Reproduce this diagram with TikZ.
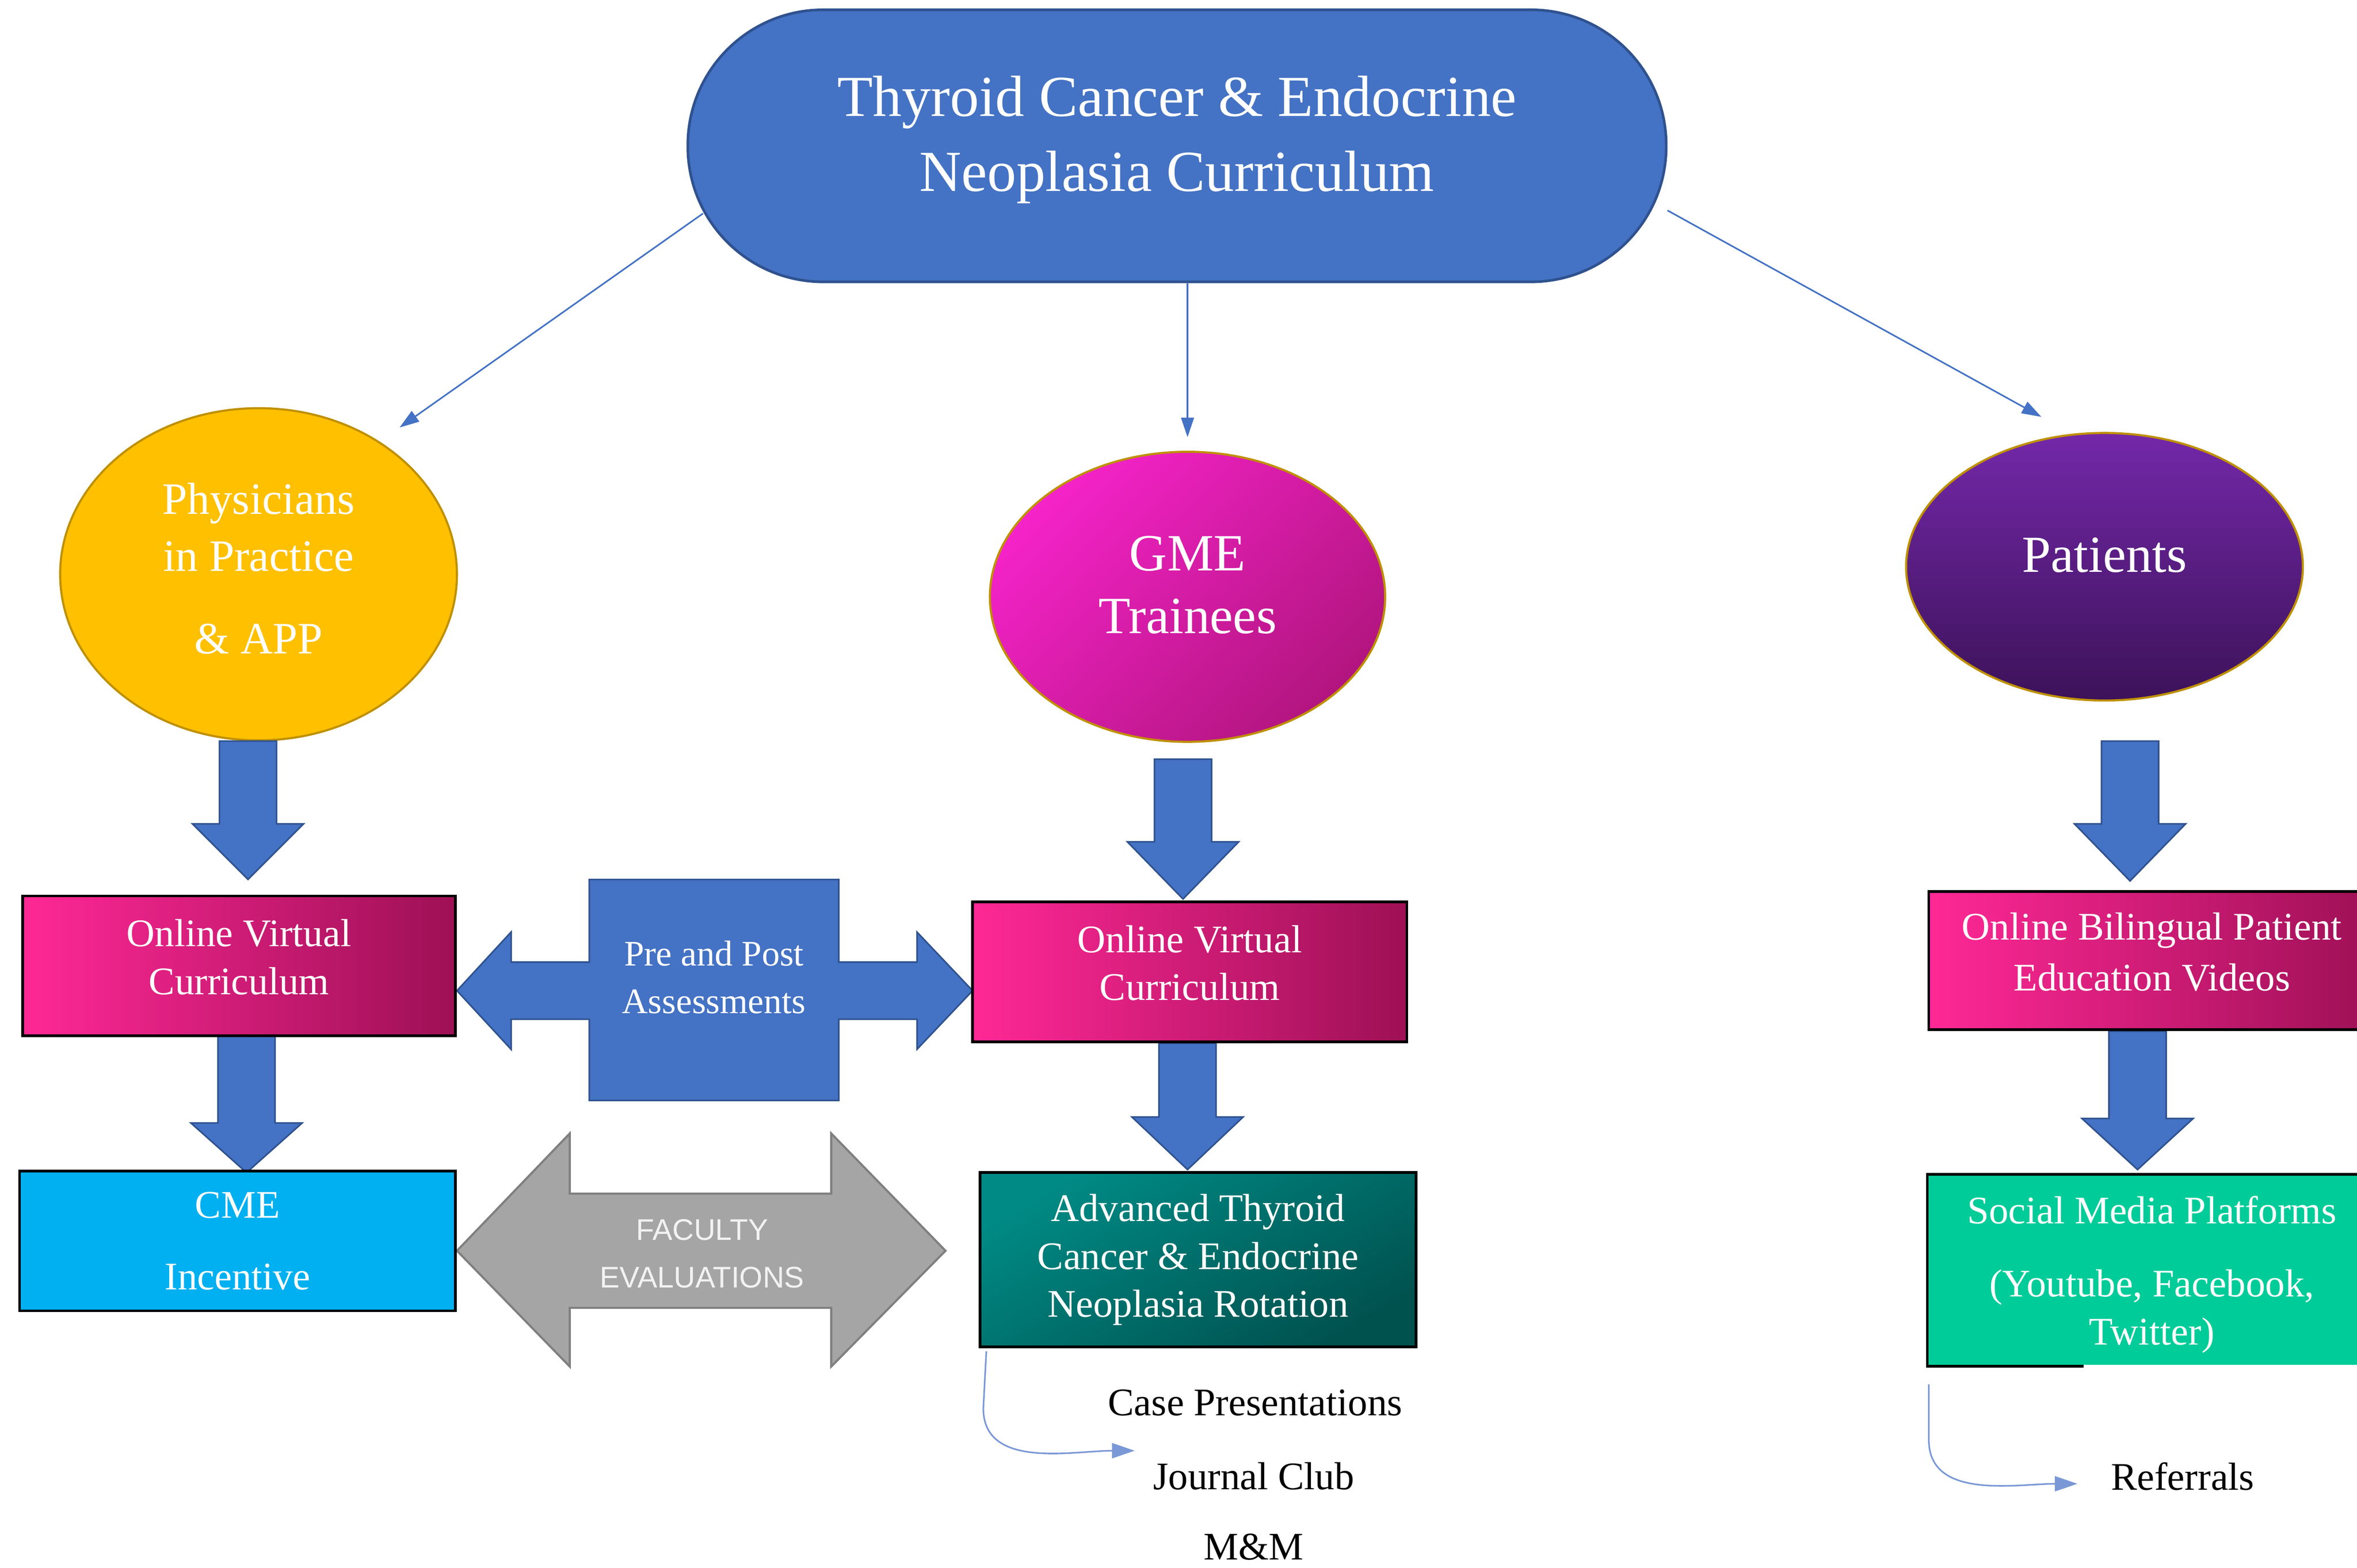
\documentclass[tikz,border=0pt]{standalone}
\usepackage{fontspec}
\setmainfont{Liberation Serif}
\setsansfont{Liberation Sans}
\usepackage{tikz}
\usetikzlibrary{shapes.geometric,arrows.meta,calc}

\definecolor{wordblue}{HTML}{4472C4}
\definecolor{wordblueline}{HTML}{2F528F}
\definecolor{lightblue}{HTML}{7A98D6}
\definecolor{gold}{HTML}{FFC000}
\definecolor{goldline}{HTML}{BF9000}
\definecolor{gmeL}{HTML}{F523C9}
\definecolor{gmeR}{HTML}{B2157F}
\definecolor{patT}{HTML}{7428A9}
\definecolor{patB}{HTML}{3C1259}
\definecolor{pinkL}{HTML}{FF2896}
\definecolor{pinkR}{HTML}{9E1056}
\definecolor{cmeblue}{HTML}{00B0F0}
\definecolor{tealT}{HTML}{008A85}
\definecolor{tealB}{HTML}{00524F}
\definecolor{mint}{HTML}{00CC99}
\definecolor{facgrey}{HTML}{A5A5A5}
\definecolor{facline}{HTML}{7F7F7F}

\newcommand{\blockdown}[4]{%
  \draw[blockarrow] (#1-19,#2) -- (#1+19,#2) -- (#1+19,#3) -- (#1+37,#3)
    -- (#1,#4) -- (#1-37,#3) -- (#1-19,#3) -- cycle;}

\begin{document}
\begin{tikzpicture}[x=0.02cm, y=-0.02cm,
        oval/.style={ellipse, draw=goldline, line width=0.8pt, inner sep=0pt, text=white, align=center},
        bigbox/.style={rectangle, draw=black, line width=1pt, inner sep=0pt, minimum height=1.86cm,
          text=white, align=center, font=\fontsize{14.8}{18.1}\selectfont},
        pinkbox/.style={bigbox, left color=pinkL, right color=pinkR},
        blockarrow/.style={fill=wordblue, draw=wordblueline, line width=0.6pt},
        thinarrow/.style={draw=wordblue, line width=0.6pt, -{Triangle[length=0.26cm,width=0.17cm]}},
        curvearrow/.style={draw=lightblue, line width=0.6pt, -{Triangle[length=0.3cm,width=0.2cm]}},
        plain/.style={inner sep=0pt, font=\fontsize{14.8}{18.1}\selectfont}]

        \useasboundingbox (0,0) rectangle (1568,1043);

        \node[rectangle, rounded corners=1.8cm, fill=wordblue, draw=wordblueline, line width=1pt,
          minimum width=13.02cm, minimum height=3.62cm, text=white, align=center, text depth=9.3pt,
          font=\fontsize{22}{28.4}\selectfont] (title) at (783,97)
          {Thyroid Cancer \& Endocrine\\Neoplasia Curriculum};

        \begin{scope}[every node/.style={oval}]
          \node[fill=gold, minimum width=5.28cm, minimum height=4.42cm, text depth=4.5pt,
            font=\fontsize{17}{21.5}\selectfont] (phys) at (172,382)
            {Physicians\\in Practice\\[9.7pt]\& APP};
          \node[top color=gmeL, bottom color=gmeR, shading angle=45, minimum width=5.26cm,
            minimum height=3.86cm, text depth=9.1pt, font=\fontsize{19.8}{23.8}\selectfont] (gme) at (790,397)
            {GME\\Trainees};
          \node[top color=patT, bottom color=patB, minimum width=5.28cm, minimum height=3.56cm,
            text depth=9.1pt, font=\fontsize{19.7}{23.8}\selectfont] (pat) at (1400,377) {Patients};
        \end{scope}

        \draw[thinarrow] ($(title.west)+(11,45)$) -- ($(phys.north east)+(0,-19)$);
        \draw[thinarrow] ($(title.south)+(7,0)$) -- ($(gme.north)+(0,-9)$);
        \draw[thinarrow] ($(title.east)+(0,43)$) -- ($(pat.north)+(-42,-10)$);

        \blockdown{165}{493}{548}{585}
        \blockdown{787}{505}{560}{598}
        \blockdown{1417}{493}{548}{586}
        \blockdown{164}{689}{747}{780}
        \blockdown{790}{694}{743}{778}
        \blockdown{1422}{686}{744}{778}

        \draw[blockarrow] (304,659) -- (340,620) -- (340,640) -- (392,640) -- (392,585) -- (558,585)
          -- (558,640) -- (610,640) -- (610,620) -- (647,659) -- (610,698) -- (610,678) -- (558,678)
          -- (558,732) -- (392,732) -- (392,678) -- (340,678) -- (340,698) -- cycle;
        \draw[fill=facgrey, draw=facline, line width=0.8pt] (304,832) -- (379,754) -- (379,794)
          -- (553,794) -- (553,754) -- (629,832) -- (553,909) -- (553,870) -- (379,870)
          -- (379,909) -- cycle;

        \begin{scope}[every node/.style={bigbox}]
          \node[pinkbox, minimum width=5.76cm, text depth=6.8pt] (ovc1) at (159,642.5)
            {Online Virtual\\Curriculum};
          \node[pinkbox, minimum width=5.78cm, text depth=6.8pt] (ovc2) at (791.5,646.5)
            {Online Virtual\\Curriculum};
          \node[fill=cmeblue, minimum width=5.8cm, text depth=-4.5pt] (cme) at (158,825.5)
            {CME\\[9.1pt]Incentive};
          \node[top color=tealT, bottom color=tealB, shading angle=30, minimum width=5.8cm,
            minimum height=2.32cm] (adv) at (797,838)
            {Advanced Thyroid\\Cancer \& Endocrine\\Neoplasia Rotation};
          \node[pinkbox, minimum width=5.94cm, minimum height=1.84cm, text depth=6.8pt,
            font=\fontsize{14.8}{19.3}\selectfont] (video) at (1431.5,639)
            {Online Bilingual Patient\\Education Videos};
          \node[fill=mint, draw=none, minimum width=5.94cm, minimum height=2.52cm, text depth=-1.5pt]
            (social) at (1431.5,845)
            {Social Media Platforms\\[9.6pt](Youtube, Facebook,\\Twitter)};
        \end{scope}
        \draw[line width=1pt] ($(social.south west)+(104,0)$) -- (social.south west)
          -- (social.north west) -- (social.north east);

        \node[text=white, align=center, font=\fontsize{13.6}{18.1}\selectfont] (prepost) at (475,650)
          {Pre and Post\\Assessments};
        \node[text=white!95!black, align=center, font=\sffamily\fontsize{11.3}{18.1}\selectfont]
          (faculty) at (467,834) {FACULTY\\EVALUATIONS};

        \begin{scope}[every node/.style={plain}]
          \node (case) at (835,933) {Case Presentations};
          \node (journal) at (834,982) {Journal Club};
          \node (mm) at (834,1029) {M\&M};
          \node (referrals) at (1452,982) {Referrals};
        \end{scope}

        \draw[curvearrow] ($(adv.south west)+(5,2)$) -- ++(-2,38)
          to[out=-90,in=180] ($(journal.west)+(-12,-17)$);
        \draw[curvearrow] ($(social.south west)+(1,12)$) -- ++(0,37)
          to[out=-90,in=180] ($(referrals.west)+(-22,5)$);
      \end{tikzpicture}
\end{document}
